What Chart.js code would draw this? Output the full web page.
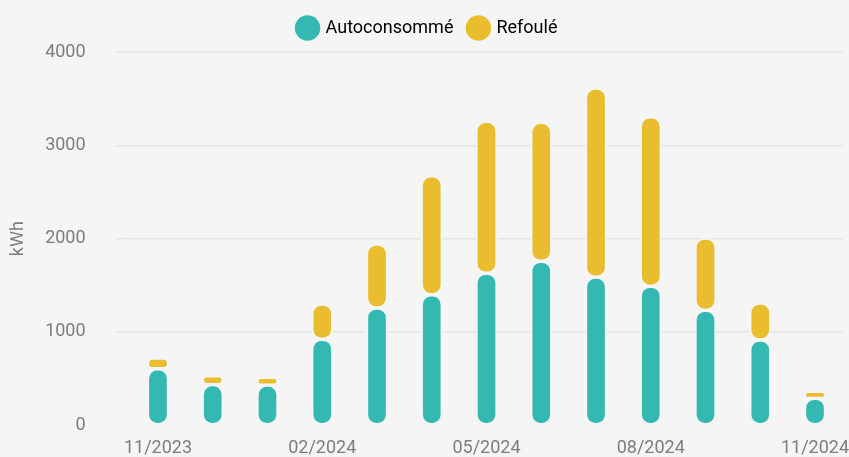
<!DOCTYPE html>
<html>
<head>
<meta charset="utf-8">
<script src="https://cdn.jsdelivr.net/npm/chart.js@4/dist/chart.umd.min.js"></script>
<style>
  html, body { margin: 0; padding: 0; background: #f5f5f5; }
  #wrap { width: 849px; height: 457px; position: relative; }
</style>
</head>
<body>
<div id="wrap"><canvas id="c"></canvas></div>
<script>
const months = ['11/2023','12/2023','01/2024','02/2024','03/2024','04/2024','05/2024','06/2024','07/2024','08/2024','09/2024','10/2024','11/2024'];
const autoconsomme = [606, 435, 430, 922, 1257, 1399, 1629, 1758, 1587, 1489, 1232, 914, 289];
const refoule = [115, 96, 84, 378, 686, 1275, 1628, 1488, 2027, 1817, 775, 396, 75];
const yTicks = [0, 1000, 2000, 3000, 4000];

const TEAL = '#34b9b2';
const YELLOW = '#e9bd2e';
const BG = '#f5f5f5';
const GRID = '#e4e4e4';
const TXT = '#7d7d7d';
const FONT = { family: 'Roboto', size: 18 };
const radius = { topLeft: 10, topRight: 10, bottomLeft: 10, bottomRight: 10 };

new Chart(document.getElementById('c'), {
  type: 'bar',
  data: {
    labels: months,
    datasets: [
      { label: 'Autoconsommé', data: autoconsomme, backgroundColor: TEAL, borderColor: BG,
        borderWidth: 2, borderRadius: radius, borderSkipped: false, barThickness: 21 },
      { label: 'Refoulé', data: refoule, backgroundColor: YELLOW, borderColor: BG,
        borderWidth: 2, borderRadius: radius, borderSkipped: false, barThickness: 21 }
    ]
  },
  options: {
    responsive: true,
    maintainAspectRatio: false,
    animation: false,
    layout: { padding: { left: 7, top: 3, right: 0, bottom: 0 } },
    plugins: {
      legend: {
        position: 'top',
        labels: {
          usePointStyle: true,
          pointStyle: 'circle',
          padding: 16,
          color: '#777777',
          font: FONT,
          generateLabels: (chart) => chart.data.datasets.map((d, i) => ({
            text: d.label, fillStyle: d.backgroundColor, strokeStyle: d.backgroundColor,
            lineWidth: 0, pointStyle: 'circle', datasetIndex: i, hidden: false
          }))
        }
      },
      title: {
        display: true, text: '', weight: 500,
        font: { size: 1 }, padding: { top: 0, bottom: 3.8 }
      },
      tooltip: { enabled: false }
    },
    scales: {
      x: {
        stacked: true,
        grid: { display: false, drawTicks: false, tickLength: 0 },
        border: { display: false },
        ticks: {
          color: TXT, font: FONT, autoSkip: false, maxRotation: 0, padding: 12,
          callback: (v, i) => (i % 3 === 0 ? months[i] : '')
        },
        afterFit: (s) => { s.height = 31.7; s.paddingLeft = 0; s.paddingRight = 6.6; }
      },
      y: {
        stacked: true,
        min: 0, max: 4000,
        border: { display: false },
        grid: {
          color: (ctx) => (ctx.tick && ctx.tick.value === 0 ? 'rgba(0,0,0,0)' : GRID),
          tickLength: 15,
          lineWidth: 1.5
        },
        ticks: { stepSize: 1000, color: TXT, font: FONT, padding: 30, callback: (v) => String(v) },
        afterBuildTicks: (s) => { s.ticks = yTicks.map(v => ({ value: v })); },
        title: { display: true, text: 'kWh', color: TXT, font: FONT, padding: { top: 1, bottom: 0 } },
        afterFit: (s) => { s.width = 123.6; s.paddingTop = 0; s.paddingBottom = 0; }
      }
    }
  }
});
</script>
</body>
</html>
